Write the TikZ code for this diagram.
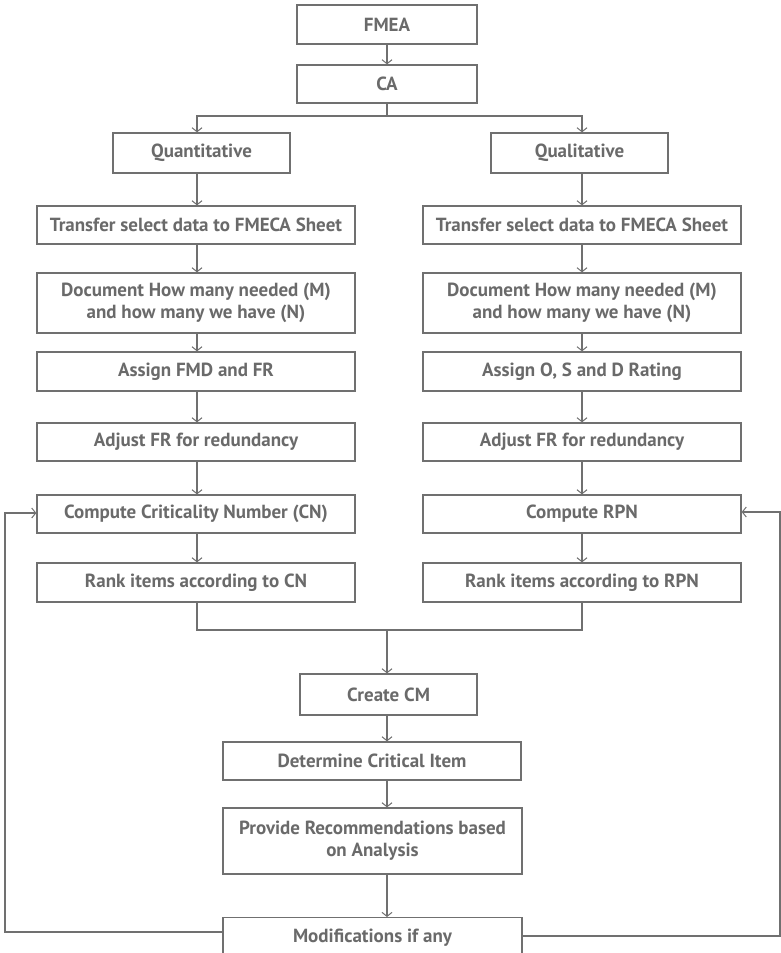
\documentclass[tikz,border=0pt]{standalone}
\usepackage{fontspec}
\setmainfont{PT Sans}
\usetikzlibrary{arrows.meta}
\definecolor{linegray}{HTML}{707070}
\definecolor{textgray}{HTML}{6A6A6A}
\begin{document}
\begin{tikzpicture}[x=1pt,y=-1pt,
  box/.style={draw=linegray, line width=1.3pt, rectangle, inner sep=0pt,
    align=center, text=textgray, font=\bfseries\fontsize{19}{22}\selectfont},
  link/.style={draw=linegray, line width=1.1pt},
  flow/.style={link, -{Straight Barb[length=4pt,width=10pt,line width=1pt]}}]
\useasboundingbox (0,0) rectangle (781,953);
\clip (0,0) rectangle (781,953);

% column axes
\coordinate (axL) at (197,0);
\coordinate (axR) at (582,0);
\coordinate (axM) at (387,0);

% top of the chart
\node[box, minimum width=180pt, minimum height=39pt] (fmea) at (387,24.5) {FMEA};
\node[box, minimum width=180pt, minimum height=38pt] (ca) at (387,84) {CA};
\node[box, minimum width=177pt, minimum height=40pt] (quant) at (201.5,153) {Quantitative};
\node[box, minimum width=177pt, minimum height=40pt] (qual) at (579.5,153) {Qualitative};

% left column
\node[box, minimum width=318pt, minimum height=38pt] (tL) at (196,225) {Transfer select data to FMECA Sheet};
\node[box, minimum width=318pt, minimum height=60pt] (dL) at (196,303) {Document How many needed (M)\\and how many we have (N)};
\node[box, minimum width=318pt, minimum height=39pt] (aL) at (196,371.5) {Assign FMD and FR};
\node[box, minimum width=318pt, minimum height=38pt] (jL) at (196,442) {Adjust FR for redundancy};
\node[box, minimum width=318pt, minimum height=38pt] (cL) at (196,514) {Compute Criticality Number (CN)};
\node[box, minimum width=318pt, minimum height=39pt] (rL) at (196,582.5) {Rank items according to CN};

% right column
\node[box, minimum width=318pt, minimum height=38pt] (tR) at (582,225) {Transfer select data to FMECA Sheet};
\node[box, minimum width=318pt, minimum height=60pt] (dR) at (582,303) {Document How many needed (M)\\and how many we have (N)};
\node[box, minimum width=318pt, minimum height=39pt] (aR) at (582,371.5) {Assign O, S and D Rating};
\node[box, minimum width=318pt, minimum height=38pt] (jR) at (582,442) {Adjust FR for redundancy};
\node[box, minimum width=318pt, minimum height=38pt] (cR) at (582,514) {Compute RPN};
\node[box, minimum width=318pt, minimum height=39pt] (rR) at (582,582.5) {Rank items according to RPN};

% merged steps
\node[box, minimum width=177pt, minimum height=41pt] (cm) at (388.5,694.5) {Create CM};
\node[box, minimum width=298pt, minimum height=38pt] (crit) at (372,761) {Determine Critical Item};
\node[box, minimum width=299pt, minimum height=66pt] (rec) at (372.5,841) {Provide Recommendations based\\on Analysis};
\node[box, minimum width=299pt, minimum height=40pt, anchor=north] (mod) at (372.5,917) {Modifications if any};

% helper points for the branch and merge lines
\coordinate (split) at (387,116);
\coordinate (merge) at (387,630);
\coordinate (loopL) at (5,0);
\coordinate (loopR) at (780,0);

% FMEA -> CA -> split into the two branches
\draw[flow] (fmea.south -| axM) -- (ca.north -| axM);
\draw[link] (ca.south -| axM) -- (split);
\draw[flow] (split) -| (quant.north -| axL);
\draw[flow] (split) -| (qual.north -| axR);

% left chain
\draw[flow] (quant.south -| axL) -- (tL.north -| axL);
\draw[flow] (tL.south -| axL) -- (dL.north -| axL);
\draw[flow] (dL.south -| axL) -- (aL.north -| axL);
\draw[flow] (aL.south -| axL) -- (jL.north -| axL);
\draw[flow] (jL.south -| axL) -- (cL.north -| axL);
\draw[flow] (cL.south -| axL) -- (rL.north -| axL);

% right chain
\draw[flow] (qual.south -| axR) -- (tR.north -| axR);
\draw[flow] (tR.south -| axR) -- (dR.north -| axR);
\draw[flow] (dR.south -| axR) -- (aR.north -| axR);
\draw[flow] (aR.south -| axR) -- (jR.north -| axR);
\draw[flow] (jR.south -| axR) -- (cR.north -| axR);
\draw[flow] (cR.south -| axR) -- (rR.north -| axR);

% merge of both rankings
\draw[link] (rL.south -| axL) |- (merge) -| (rR.south -| axR);
\draw[flow] (merge) -- (cm.north -| axM);
\draw[flow] (cm.south -| axM) -- (crit.north -| axM);
\draw[flow] (crit.south -| axM) -- (rec.north -| axM);
\draw[flow] (rec.south -| axM) -- (mod.north -| axM);

% feedback loops from the modifications
\draw[flow] (mod.west |- 0,932) -- (loopL |- 0,932) -- (loopL |- 0,513) -- (cL.west |- 0,513);
\draw[flow] (mod.east |- 0,936) -- (loopR |- 0,936) -- (loopR |- 0,512) -- (cR.east |- 0,512);
\end{tikzpicture}
\end{document}
